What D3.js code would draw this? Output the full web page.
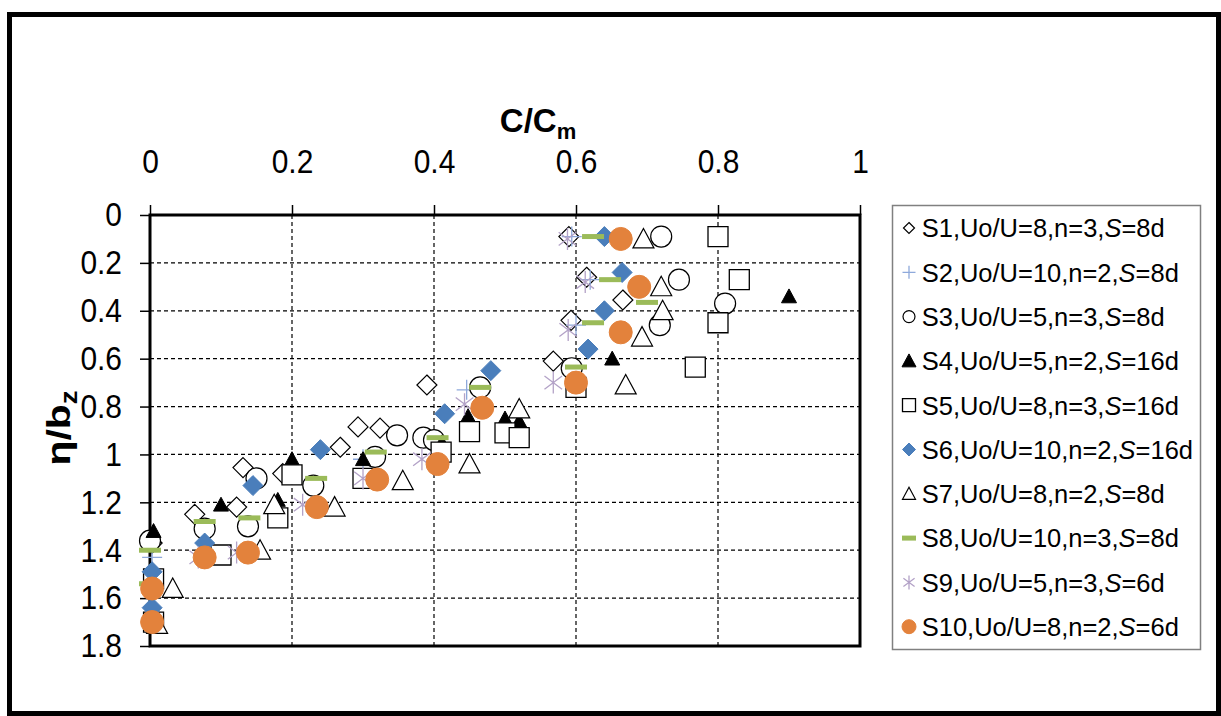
<!DOCTYPE html>
<html>
<head>
<meta charset="utf-8">
<script src="https://cdn.jsdelivr.net/npm/d3@7"></script>
<style>
body { margin: 0; background: #fff; }
svg { display: block; }
text { font-family: "Liberation Sans", Arial, sans-serif; fill: #000; }
</style>
</head>
<body>
<svg id="chart"></svg>
<script>
// Данные: [C/Cm, eta/bz] для каждой серии
const s1 = [[0.59,0.09],[0.615,0.26],[0.666,0.355],[0.593,0.44],[0.568,0.61],[0.39,0.71],[0.293,0.885],[0.324,0.89],[0.268,0.97],[0.131,1.055],[0.187,1.08],[0.122,1.22],[0.063,1.25],[0.003,1.37]];
const s2 = [[0.594,0.09],[0.62,0.27],[0.60,0.46],[0.446,0.73],[0.30,1.02],[0.003,1.43]];
const s3 = [[0.72,0.09],[0.745,0.27],[0.81,0.37],[0.718,0.46],[0.594,0.64],[0.465,0.72],[0.348,0.92],[0.385,0.93],[0.40,0.94],[0.317,1.01],[0.23,1.13],[0.15,1.10],[0.077,1.31],[0.138,1.30],[0.0,1.36]];
const s4 = [[0.90,0.34],[0.651,0.60],[0.448,0.84],[0.50,0.85],[0.52,0.86],[0.411,0.95],[0.30,1.02],[0.20,1.02],[0.18,1.19],[0.10,1.21],[0.005,1.32]];
const s5 = [[0.80,0.09],[0.83,0.27],[0.80,0.45],[0.768,0.635],[0.60,0.72],[0.45,0.905],[0.50,0.91],[0.52,0.93],[0.41,0.99],[0.30,1.10],[0.20,1.085],[0.18,1.265],[0.10,1.42],[0.005,1.52],[0.005,1.70]];
const s6 = [[0.64,0.09],[0.665,0.24],[0.64,0.40],[0.617,0.56],[0.48,0.65],[0.415,0.83],[0.24,0.98],[0.145,1.13],[0.077,1.37],[0.003,1.49],[0.003,1.64]];
const s7 = [[0.695,0.10],[0.72,0.30],[0.722,0.40],[0.693,0.51],[0.67,0.71],[0.52,0.81],[0.45,1.04],[0.356,1.11],[0.26,1.22],[0.175,1.21],[0.155,1.40],[0.032,1.56],[0.01,1.71]];
const s8 = [[0.624,0.09],[0.648,0.27],[0.70,0.365],[0.624,0.45],[0.60,0.635],[0.465,0.72],[0.405,0.93],[0.318,0.99],[0.234,1.10],[0.14,1.265],[0.077,1.28],[0.0,1.40],[0.0,1.54]];
const s9 = [[0.588,0.10],[0.613,0.28],[0.589,0.48],[0.568,0.70],[0.443,0.79],[0.383,1.02],[0.30,1.10],[0.215,1.21],[0.122,1.41],[0.068,1.43]];
const s10 = [[0.663,0.10],[0.689,0.30],[0.663,0.49],[0.60,0.70],[0.468,0.805],[0.405,1.04],[0.32,1.105],[0.235,1.22],[0.138,1.41],[0.077,1.43],[0.003,1.56],[0.003,1.70]];

const legendLabels = [
  ["S1,Uo/U=8,n=3,", "=8d"],
  ["S2,Uo/U=10,n=2,", "=8d"],
  ["S3,Uo/U=5,n=3,", "=8d"],
  ["S4,Uo/U=5,n=2,", "=16d"],
  ["S5,Uo/U=8,n=3,", "=16d"],
  ["S6,Uo/U=10,n=2,", "=16d"],
  ["S7,Uo/U=8,n=2,", "=8d"],
  ["S8,Uo/U=10,n=3,", "=8d"],
  ["S9,Uo/U=5,n=3,", "=6d"],
  ["S10,Uo/U=8,n=2,", "=6d"]
];
const xTicks = [0, 0.2, 0.4, 0.6, 0.8, 1];
const yTicks = [0, 0.2, 0.4, 0.6, 0.8, 1, 1.2, 1.4, 1.6, 1.8];

const width = 1221, height = 716;
const svg = d3.select("#chart").attr("width", width).attr("height", height);

// внешняя рамка
svg.append("rect").attr("x", 9.5).attr("y", 14.5).attr("width", 1209).attr("height", 699)
  .attr("fill", "none").attr("stroke", "#000").attr("stroke-width", 5);

const x = d3.scaleLinear().domain([0, 1]).range([150, 860]);
const y = d3.scaleLinear().domain([0, 1.8]).range([215, 646]);

// сетка
svg.append("g").selectAll("line").data(xTicks.slice(1, -1)).join("line")
  .attr("x1", d => x(d)).attr("x2", d => x(d)).attr("y1", y(0)).attr("y2", y(1.8))
  .attr("stroke", "#000").attr("stroke-width", 1.2).attr("stroke-dasharray", "4,3");
svg.append("g").selectAll("line").data(yTicks.slice(1, -1)).join("line")
  .attr("x1", x(0)).attr("x2", x(1)).attr("y1", d => y(d)).attr("y2", d => y(d))
  .attr("stroke", "#000").attr("stroke-width", 1.2).attr("stroke-dasharray", "4,3");

// оси (шрифт подписей чуть сжат по горизонтали, как в оригинале)
const fmt = d => String(+d.toFixed(1));
const sx = 0.88;
const gx = svg.append("g").attr("transform", `translate(0,${y(0)})`)
  .call(d3.axisTop(x).tickValues(xTicks).tickFormat(fmt).tickSizeInner(10).tickSizeOuter(0).tickPadding(32));
const gy = svg.append("g").attr("transform", `translate(${x(0)},0)`)
  .call(d3.axisLeft(y).tickValues(yTicks).tickFormat(fmt).tickSizeInner(10).tickSizeOuter(0).tickPadding(18));
[gx, gy].forEach(g => {
  g.select(".domain").remove();
  g.selectAll(".tick line").attr("stroke", "#000").attr("stroke-width", 1.5);
  g.selectAll(".tick text").attr("font-size", 34).attr("font-family", "Liberation Sans, Arial, sans-serif")
    .attr("fill", "#000").attr("transform", `scale(${sx},1)`);
});
gy.selectAll(".tick text").attr("x", -28 / sx);

// рамка области построения
svg.append("rect").attr("x", x(0)).attr("y", y(0)).attr("width", x(1) - x(0)).attr("height", y(1.8) - y(0))
  .attr("fill", "none").attr("stroke", "#000").attr("stroke-width", 3);

// подписи осей
const xt = svg.append("text").attr("x", 538).attr("y", 132).attr("text-anchor", "middle")
  .attr("font-size", 33).attr("font-weight", "bold");
xt.append("tspan").text("C/C");
xt.append("tspan").attr("font-size", 22).attr("dy", 7).text("m");

const yt = svg.append("text").attr("transform", "translate(70,428) rotate(-90) scale(1.2,1)").attr("text-anchor", "middle")
  .attr("font-size", 34).attr("font-weight", "bold");
yt.append("tspan").text("η/b");
yt.append("tspan").attr("font-size", 23).attr("dy", 7).text("z");

// маркеры
const shapes = {
  diamond: { draw(c, s) { const r = Math.sqrt(s) / 2; c.moveTo(0, -r); c.lineTo(r, 0); c.lineTo(0, r); c.lineTo(-r, 0); c.closePath(); } },
  plus: { draw(c, s) { const r = Math.sqrt(s) / 2; c.moveTo(-r, 0); c.lineTo(r, 0); c.moveTo(0, -r); c.lineTo(0, r); } },
  circle: { draw(c, s) { const r = Math.sqrt(s) / 2; c.moveTo(r, 0); c.arc(0, 0, r, 0, 2 * Math.PI); } },
  triangle: { draw(c, s) { const r = Math.sqrt(s) / 2; c.moveTo(0, -r); c.lineTo(r, r * 0.85); c.lineTo(-r, r * 0.85); c.closePath(); } },
  square: { draw(c, s) { const r = Math.sqrt(s) / 2; c.rect(-r, -r, 2 * r, 2 * r); } },
  dash: { draw(c, s) { const r = Math.sqrt(s) / 2; c.rect(-r, -2.5, 2 * r, 5); } },
  star: { draw(c, s) { const r = Math.sqrt(s) / 2; c.moveTo(0, -r); c.lineTo(0, r); c.moveTo(-r * 0.8, -r * 0.6); c.lineTo(r * 0.8, r * 0.6); c.moveTo(-r * 0.8, r * 0.6); c.lineTo(r * 0.8, -r * 0.6); } }
};

const series = [
  { data: s1, shape: "diamond", w: 20, lw: 11, fill: "#fff", stroke: "#000", sw: 1.2 },
  { data: s2, shape: "plus", w: 20, lw: 13, fill: "none", stroke: "#8EA9DB", sw: 1.3 },
  { data: s3, shape: "circle", w: 21, lw: 12, fill: "#fff", stroke: "#000", sw: 1.2 },
  { data: s4, shape: "triangle", w: 15, lw: 14, fill: "#000", stroke: "#000", sw: 1 },
  { data: s5, shape: "square", w: 20, lw: 13, fill: "#fff", stroke: "#000", sw: 1.3 },
  { data: s6, shape: "diamond", w: 20, lw: 13, fill: "#4A7EBB", stroke: "#4A7EBB", sw: 1 },
  { data: s7, shape: "triangle", w: 21, lw: 13, fill: "#fff", stroke: "#000", sw: 1.2 },
  { data: s8, shape: "dash", w: 22, lw: 14, fill: "#9BBB59", stroke: "none", sw: 0 },
  { data: s9, shape: "star", w: 22, lw: 14, fill: "none", stroke: "#B3A2C7", sw: 1.3 },
  { data: s10, shape: "circle", w: 23, lw: 14, fill: "#E3823C", stroke: "#E3823C", sw: 1 }
];

series.forEach(s => {
  const path = d3.symbol().type(shapes[s.shape]).size(s.w * s.w)();
  svg.append("g").selectAll("path").data(s.data).join("path")
    .attr("transform", d => `translate(${x(d[0])},${y(d[1])})`)
    .attr("d", path)
    .attr("fill", s.fill).attr("stroke", s.stroke).attr("stroke-width", s.sw);
});

// легенда
svg.append("rect").attr("x", 892.5).attr("y", 205.5).attr("width", 308).attr("height", 444)
  .attr("fill", "#fff").attr("stroke", "#808080").attr("stroke-width", 1.5);
const leg = svg.append("g").selectAll("g").data(series).join("g")
  .attr("transform", (d, i) => `translate(909,${228 + i * 44.3})`);
leg.append("path")
  .attr("d", d => d3.symbol().type(shapes[d.shape]).size(d.lw * d.lw)())
  .attr("fill", d => d.fill).attr("stroke", d => d.stroke).attr("stroke-width", d => d.sw);
const lt = leg.append("text").attr("x", 13).attr("dy", "0.36em").attr("font-size", 26)
  .attr("transform", "scale(0.98,1)");
lt.append("tspan").text((d, i) => legendLabels[i][0]);
lt.append("tspan").attr("font-style", "italic").text("S");
lt.append("tspan").text((d, i) => legendLabels[i][1]);
</script>
</body>
</html>
